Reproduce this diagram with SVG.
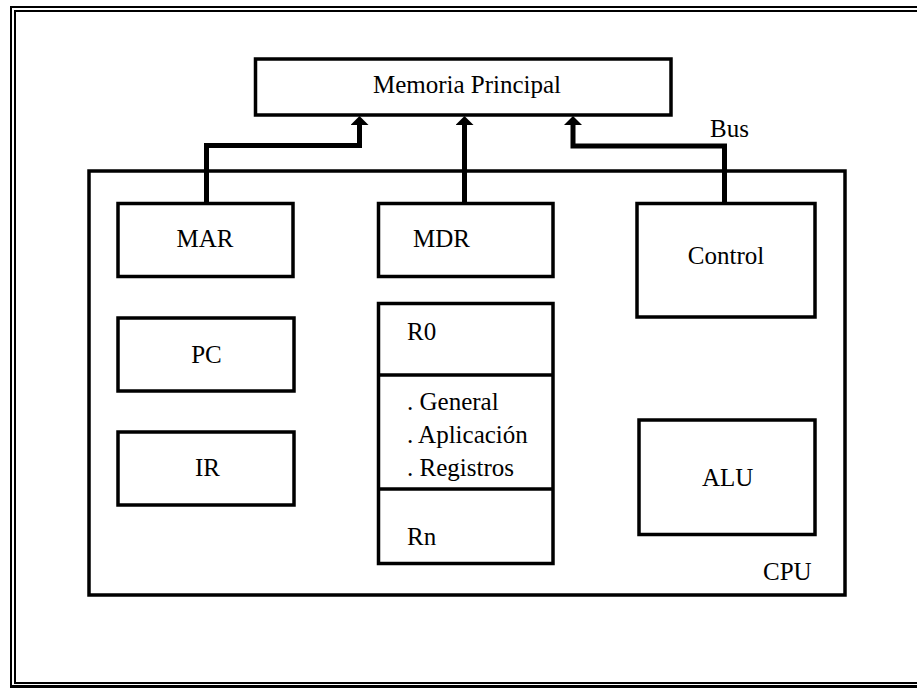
<svg xmlns="http://www.w3.org/2000/svg" width="917" height="688" viewBox="0 0 917 688">
  <style>
    .box { fill: #ffffff; stroke: #000000; stroke-width: 3.5; }
    .frame { fill: none; stroke: #000000; }
    .bus { fill: none; stroke: #000000; stroke-width: 5; stroke-linejoin: miter; }
    .lbl { font-family: "Liberation Serif", "Times New Roman", serif; font-size: 25px; fill: #000000; }
    .mid { text-anchor: middle; }
  </style>
  <defs>
    <marker id="head" viewBox="0 0 9 18" refX="0" refY="9" markerWidth="9" markerHeight="18" markerUnits="userSpaceOnUse" orient="auto">
      <path d="M0,0 L9,9 L0,18 Z" fill="#000000"/>
    </marker>
  </defs>

  <rect x="0" y="0" width="917" height="688" fill="#ffffff"/>

  <!-- double page frame, heavier on the bottom edge -->
  <g id="frame">
    <path class="frame" stroke-width="2" d="M11,688 L11,7 L917,7"/>
    <path class="frame" stroke-width="3" d="M10,686.5 L917,686.5"/>
    <path class="frame" stroke-width="2" d="M15,684 L15,11 L917,11"/>
    <path class="frame" stroke-width="2" d="M14,683 L917,683"/>
  </g>

  <g id="memoria">
    <rect class="box" x="255.5" y="59" width="415.5" height="56"/>
    <text class="lbl mid" x="467" y="93">Memoria Principal</text>
  </g>

  <g id="cpu">
    <rect class="box" x="89" y="171" width="756" height="424" stroke-width="3"/>
    <text class="lbl" x="763" y="580">CPU</text>
  </g>

  <g id="mar">
    <rect class="box" x="118" y="203.5" width="175" height="73"/>
    <text class="lbl mid" x="205" y="247">MAR</text>
  </g>

  <g id="mdr">
    <rect class="box" x="378.5" y="203.5" width="174.5" height="73"/>
    <text class="lbl" x="413" y="247">MDR</text>
  </g>

  <g id="control">
    <rect class="box" x="637" y="203.5" width="178" height="113.5"/>
    <text class="lbl mid" x="726" y="264">Control</text>
  </g>

  <g id="pc">
    <rect class="box" x="118" y="318" width="176" height="73"/>
    <text class="lbl mid" x="206.5" y="363">PC</text>
  </g>

  <g id="ir">
    <rect class="box" x="118" y="432" width="176" height="73"/>
    <text class="lbl mid" x="207.5" y="476">IR</text>
  </g>

  <g id="registros">
    <rect class="box" x="378.5" y="303.5" width="174.5" height="260"/>
    <line class="box" x1="378.5" y1="375" x2="553" y2="375"/>
    <line class="box" x1="378.5" y1="489" x2="553" y2="489"/>
    <text class="lbl" x="407" y="340">R0</text>
    <text class="lbl" x="407" y="410">. General</text>
    <text class="lbl" x="407" y="443">. Aplicación</text>
    <text class="lbl" x="407" y="476">. Registros</text>
    <text class="lbl" x="407" y="545">Rn</text>
  </g>

  <g id="alu">
    <rect class="box" x="639" y="420" width="176" height="114.5"/>
    <text class="lbl" x="702" y="486">ALU</text>
  </g>

  <!-- bus lines from the CPU registers up to main memory -->
  <g id="connectors">
    <path class="bus" marker-end="url(#head)" d="M206.5,203 L206.5,145.5 L359.5,145.5 L359.5,125"/>
    <path class="bus" marker-end="url(#head)" d="M464.5,203 L464.5,125"/>
    <path class="bus" marker-end="url(#head)" d="M724.5,203 L724.5,146 L573,146 L573,125"/>
    <text class="lbl" x="710" y="137">Bus</text>
  </g>
</svg>
